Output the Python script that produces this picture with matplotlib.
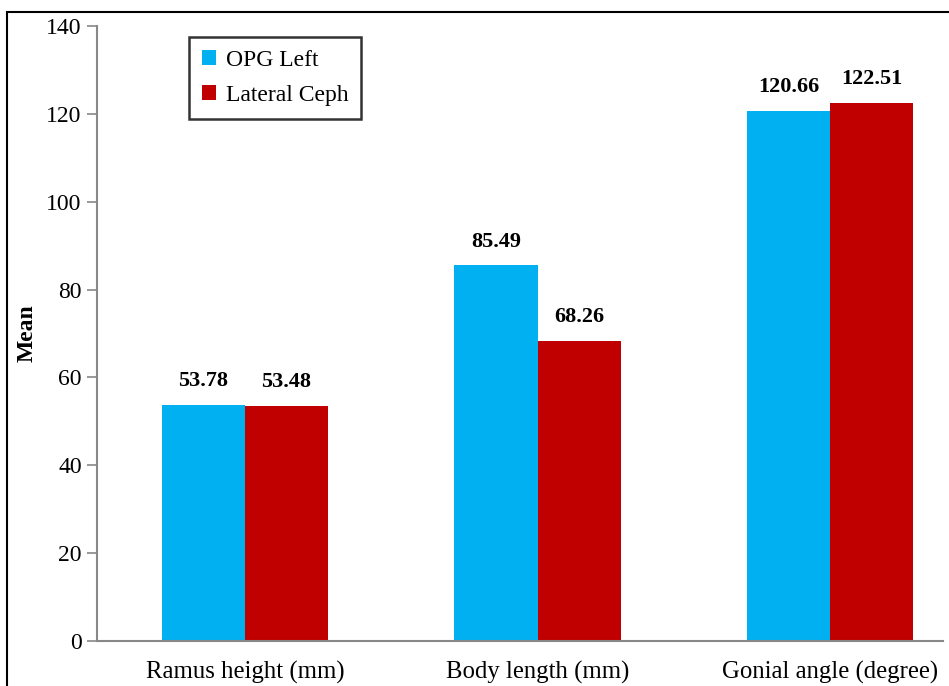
import numpy as np
import matplotlib.pyplot as plt
from matplotlib.patches import Rectangle

categories = ["Ramus height (mm)", "Body length (mm)", "Gonial angle (degree)"]
opg_left = [53.78, 85.49, 120.66]
lateral_ceph = [53.48, 68.26, 122.51]
series_names = ["OPG Left", "Lateral Ceph"]
yticks = [0, 20, 40, 60, 80, 100, 120, 140]

plt.rcParams['font.family'] = ['Liberation Serif', 'DejaVu Serif']

W, H = 949, 686
fig = plt.figure(figsize=(W / 100, H / 100), dpi=100)
ax = fig.add_axes([97 / W, 1 - 641 / H, 846 / W, (641 - 26) / H])

# frame around the figure (clipped on right/bottom as in the original)
fig.patches.append(Rectangle((7 / W, -0.05), 1.1, 1 - 12 / H + 0.05,
                             transform=fig.transFigure, fill=False,
                             edgecolor='black', linewidth=1.5))

x = np.arange(len(categories))
w = 0.284
b1 = ax.bar(x - w / 2, opg_left, w, color='#00B0F0', label=series_names[0])
b2 = ax.bar(x + w / 2, lateral_ceph, w, color='#C00000', label=series_names[1])

for bars, vals in [(b1, opg_left), (b2, lateral_ceph)]:
    for r, v in zip(bars, vals):
        ax.annotate(f"{v:.2f}", (r.get_x() + r.get_width() / 2, v),
                    xytext=(0, 10), textcoords='offset points',
                    ha='center', va='bottom', fontsize=16, fontweight='bold')

ax.set_xlim(-0.506, 2.386)
ax.set_ylim(0, 140)
ax.set_yticks(yticks)
ax.set_xticks(x)
ax.set_xticklabels(categories, fontsize=17.8)
ax.tick_params(axis='x', length=0, pad=14)
ax.tick_params(axis='y', length=7, width=1.2, color='#888888', labelsize=17, pad=4)
for s in ['top', 'right']:
    ax.spines[s].set_visible(False)
for s in ['left', 'bottom']:
    ax.spines[s].set_color('#888888')
    ax.spines[s].set_linewidth(1.5)

ax.set_ylabel("Mean", fontsize=17, fontweight='bold', labelpad=6)

leg = ax.legend(loc='upper left', bbox_to_anchor=((189 - 97) / 846, (641 - 37) / (641 - 26)),
                fontsize=17, frameon=True, fancybox=False, handlelength=0.6,
                handleheight=0.6, handletextpad=0.4, borderpad=0.55, labelspacing=0.6,
                borderaxespad=0)
leg.get_frame().set_edgecolor('black')
leg.get_frame().set_linewidth(1.8)

fig.savefig("out.png", dpi=100)
